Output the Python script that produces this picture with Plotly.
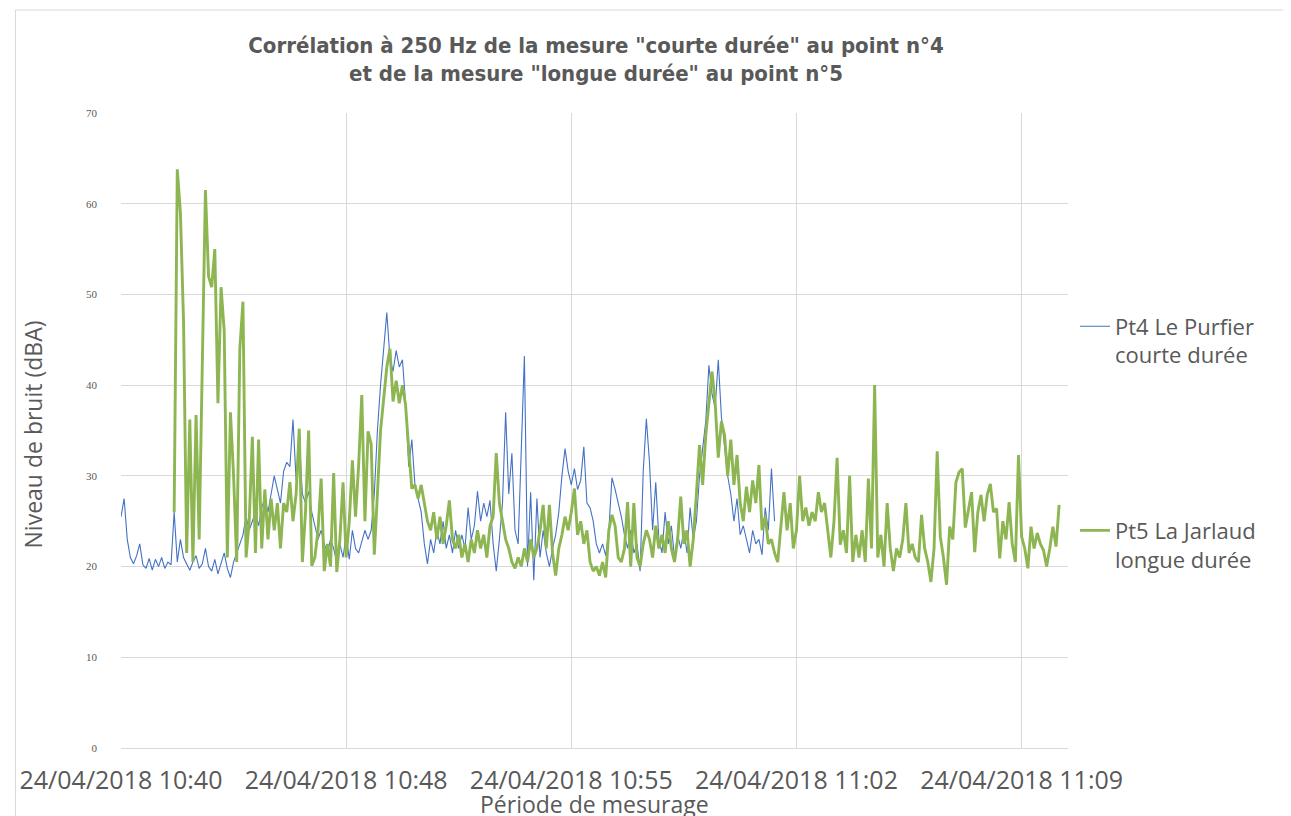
import plotly.graph_objects as go
import pandas as pd

# ---------------- data ----------------
blue_name = "Pt4 Le Purfier<br>courte durée"
green_name = "Pt5 La Jarlaud<br>longue durée"

blue_start = "2018-04-24 10:40:48"
green_start = "2018-04-24 10:42:30"
sample_step = "6s"

blue_values = [
    25.5, 27.5, 23, 21, 20.3, 21.2, 22.5, 20.2, 19.8, 20.9,
    19.6, 20.8, 20, 21, 19.8, 20.5, 20.2, 26, 20.5, 23,
    21, 20.2, 19.6, 20.5, 21.2, 19.8, 20.3, 22, 20, 19.5,
    20.8, 19.2, 20.5, 21.5, 19.8, 18.8, 20.5, 21.5, 22.5, 23.5,
    25.5, 24, 25, 26, 24.5, 26.5, 27.5, 26, 28, 30,
    28.5, 27, 30.5, 31.5, 31, 36.2, 29.5, 34, 28, 27,
    28.3, 26, 24.5, 23, 24, 22.5, 21.5, 23, 22, 20.5,
    22.5, 21, 23.5, 20.8, 24, 22, 21.5, 22.8, 24, 23,
    24, 28, 35, 40, 44, 48, 43, 41.5, 43.8, 42,
    42.8, 38, 31, 34, 29, 27.5, 26, 22.5, 20.3, 23,
    21.5, 24, 22.5, 25, 22, 23.5, 21.5, 24, 22, 23.5,
    22, 26.5, 23, 24.5, 28.3, 25, 27, 25.5, 27.3, 22.5,
    19.5, 23, 27, 37, 28, 32.5, 24, 22.5, 32.3, 43.2,
    20, 28.2, 18.5, 27.5, 21, 24, 21.5, 20, 22, 23.5,
    26, 30, 33, 30.5, 29, 30.8, 28.5, 29.5, 33.2, 27,
    26.5, 25, 22.5, 21.5, 22.5, 21.2, 24, 29.8, 28.5, 27,
    25.5, 23.5, 22, 24, 21.5, 22.5, 19.5, 30.5, 36.3, 31.5,
    24, 29.3, 23, 21.5, 26, 22.5, 24.5, 21, 23.5, 22,
    24, 21.5, 26.5, 23, 25, 30, 33, 36, 42.2, 39,
    37.5, 42.8, 36.5, 33, 30, 28, 25, 27.5, 23.5, 24.5,
    23, 21.5, 24, 22.5, 23, 21.3, 26.5, 24, 30.8, 25,
]

green_values = [
    26, 63.8, 59, 47, 21.5, 36.2, 20.5, 36.7, 23, 44,
    61.5, 52, 50.8, 55, 38, 50.8, 46, 21, 37, 30,
    20.5, 44, 49.2, 21, 25, 34.3, 21.5, 34, 22, 28.5,
    23, 27.5, 24, 27, 22, 27, 26, 29.3, 25, 28,
    35.2, 20.5, 26, 35, 20.1, 21, 24, 29.7, 19.5, 22.5,
    20, 30.3, 19.4, 23, 29.3, 21, 25, 31.7, 25.5, 31.2,
    38.9, 25, 34.9, 33.5, 21.3, 28, 35, 38.5, 42, 44,
    38.2, 40.5, 38, 40, 37.8, 33, 28.6, 29, 27.5, 29,
    27, 25, 24, 26, 23, 25.5, 22.5, 24.5, 27.3, 23,
    22, 23.5, 21, 22.5, 20.5, 23, 21.5, 24, 22, 23.5,
    21, 24.5, 25.5, 32.5, 27, 25, 23, 22, 20.5, 19.8,
    21, 20, 22, 20.5, 23, 21, 22, 24, 26.8, 22,
    26.8, 21.5, 19, 22, 23.5, 25.5, 24, 26, 28.6, 23.5,
    25, 22.5, 24, 20.5, 19.5, 20, 19, 20.5, 18.8, 24,
    25.7, 24.5, 21, 20.5, 22, 27.1, 20, 27, 21, 20,
    22.5, 24, 23, 21, 24.5, 22, 23.5, 21.5, 25, 22,
    20.5, 23, 27.7, 22.5, 24, 20, 23, 28, 33.4, 29,
    34.5, 38, 41.5, 38, 32, 36, 34.5, 30, 34, 29,
    32.3, 27, 25, 28.8, 26, 29.5, 27, 31.2, 24, 25.5,
    22.5, 23, 21.5, 20.5, 24, 28.2, 24, 27, 22, 24,
    30, 25, 26.5, 24.5, 26, 25, 28.2, 26, 27, 24,
    21, 25, 32, 22.4, 24, 21.5, 30, 20.5, 23.5, 21,
    24, 20.5, 29.7, 22, 40, 21, 23.5, 20, 27, 22,
    19.5, 22, 21, 23, 27, 21.5, 22.5, 21, 20.5, 25.7,
    22, 20.5, 18.3, 22, 32.7, 23.3, 21, 18, 24.4, 23,
    29.3, 30.4, 30.8, 24.3, 26.5, 28.2, 21.6, 26, 27.9, 25,
    27.9, 29.1, 26, 26.4, 20.9, 25, 23, 27.1, 22.5, 20.5,
    32.3, 23.3, 22, 19.8, 24.4, 22, 23.7, 22.5, 21.8, 20,
    22, 24.4, 22.2, 26.8,
]

tick_vals = [
    "2018-04-24 10:40:48",
    "2018-04-24 10:48:00",
    "2018-04-24 10:55:12",
    "2018-04-24 11:02:24",
    "2018-04-24 11:09:36",
]
tick_text = [
    "24/04/2018 10:40",
    "24/04/2018 10:48",
    "24/04/2018 10:55",
    "24/04/2018 11:02",
    "24/04/2018 11:09",
]
x_range = ["2018-04-24 10:40:48", "2018-04-24 11:11:05"]
y_ticks = [0, 10, 20, 30, 40, 50, 60, 70]

title_text = ('Corrélation à 250 Hz de la mesure "courte durée" au point n°4<br>'
              'et de la mesure "longue durée" au point n°5')
y_title = "Niveau de bruit (dBA)"
x_title = "Période de mesurage"

# ---------------- figure ----------------
blue_t = pd.date_range(blue_start, periods=len(blue_values), freq=sample_step)
green_t = pd.date_range(green_start, periods=len(green_values), freq=sample_step)

GRAY = "#595959"
GRID = "#d9d9d9"

# the page body has an 8px margin, so the figure is sized/offset to compensate
W, H = 1283, 808
L, R, T, B = 108, 223, 105, 68

fig = go.Figure()
fig.add_trace(go.Scatter(x=blue_t, y=blue_values, mode="lines", name=blue_name,
                         legendgroup="a",
                         line=dict(color="#4472C4", width=1.1)))
fig.add_trace(go.Scatter(x=green_t, y=green_values, mode="lines", name=green_name,
                         legendgroup="b",
                         line=dict(color="#8DB652", width=2.9)))

fig.update_layout(
    width=W, height=H,
    margin=dict(l=L, r=R, t=T, b=B),
    paper_bgcolor="white", plot_bgcolor="white",
    title=dict(text=title_text, x=588 / W, xanchor="center",
               y=0.9445, yanchor="top",
               font=dict(family="Liberation Sans Narrow, DejaVu Sans Condensed, sans-serif",
                         size=22, color=GRAY, weight="bold")),
    legend=dict(x=1.0074, xanchor="left", y=0.697, yanchor="top",
                traceorder="grouped", tracegroupgap=144, valign="top",
                font=dict(family="Open Sans", size=22, color=GRAY),
                bgcolor="rgba(0,0,0,0)", itemwidth=30),
    showlegend=True,
)

fig.update_xaxes(type="date", range=x_range, tickvals=tick_vals, ticktext=tick_text,
                 showgrid=True, gridcolor=GRID, gridwidth=1,
                 showline=False, ticks="", ticklabelstandoff=15,
                 tickfont=dict(family="Open Sans", size=25, color=GRAY))
fig.update_yaxes(range=[0, 70], tickvals=y_ticks,
                 showgrid=True, gridcolor=GRID, gridwidth=1,
                 zeroline=True, zerolinecolor=GRID, zerolinewidth=1,
                 ticks="", ticklabelstandoff=23,
                 tickfont=dict(family="Liberation Serif", size=11, color=GRAY))

fig.add_annotation(text=y_title, xref="paper", yref="paper",
                   x=(28 - 116) / 952, y=(748 - 434) / 635,
                   xanchor="center", yanchor="middle", textangle=-90, showarrow=False,
                   font=dict(family="Open Sans", size=23, color=GRAY))
fig.add_annotation(text=x_title, xref="paper", yref="paper",
                   x=0.5, y=(748 - 804) / 635,
                   xanchor="center", yanchor="middle", showarrow=False,
                   font=dict(family="Open Sans", size=23, color=GRAY))

# outer chart frame (top and left edges visible)
fig.add_shape(type="line", xref="paper", yref="paper",
              x0=(2 - L) / 952, x1=(W - L) / 952,
              y0=(740 - 2) / 635, y1=(740 - 2) / 635,
              line=dict(color=GRID, width=1))
fig.add_shape(type="line", xref="paper", yref="paper",
              x0=(2 - L) / 952, x1=(2 - L) / 952,
              y0=(740 - 2) / 635, y1=(740 - H) / 635,
              line=dict(color=GRID, width=1))

fig.write_html("out.html")
